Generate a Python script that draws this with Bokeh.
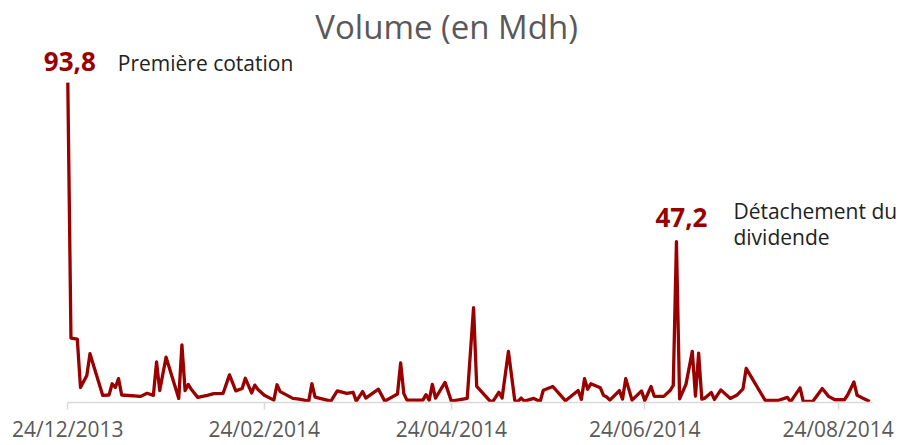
import numpy as np
import pandas as pd
from bokeh.plotting import figure
from bokeh.models import Range1d, Label, FixedTicker, DatetimeTickFormatter, ColumnDataSource
from bokeh.embed import file_html
from bokeh.resources import INLINE

# ---------------- data ----------------
dates = [
    "2013-12-24", "2013-12-25", "2013-12-27", "2013-12-28", "2013-12-30", "2013-12-31",
    "2014-01-02", "2014-01-04", "2014-01-06", "2014-01-07", "2014-01-08", "2014-01-09",
    "2014-01-10", "2014-01-16", "2014-01-18", "2014-01-20", "2014-01-21", "2014-01-22",
    "2014-01-24", "2014-01-28", "2014-01-29", "2014-01-30", "2014-01-31", "2014-02-01",
    "2014-02-03", "2014-02-06", "2014-02-08", "2014-02-11", "2014-02-13", "2014-02-15",
    "2014-02-17", "2014-02-18", "2014-02-20", "2014-02-21", "2014-02-22", "2014-02-24",
    "2014-02-27", "2014-02-28", "2014-03-01", "2014-03-05", "2014-03-07", "2014-03-10",
    "2014-03-11", "2014-03-12", "2014-03-17", "2014-03-19", "2014-03-22", "2014-03-24",
    "2014-03-25", "2014-03-27", "2014-03-28", "2014-04-01", "2014-04-03", "2014-04-07",
    "2014-04-08", "2014-04-09", "2014-04-10", "2014-04-15", "2014-04-16", "2014-04-17",
    "2014-04-18", "2014-04-19", "2014-04-22", "2014-04-24", "2014-04-29", "2014-05-01",
    "2014-05-02", "2014-05-06", "2014-05-07", "2014-05-09", "2014-05-10", "2014-05-12",
    "2014-05-14", "2014-05-15", "2014-05-16", "2014-05-17", "2014-05-20", "2014-05-22",
    "2014-05-23", "2014-05-26", "2014-05-28", "2014-05-30", "2014-06-03", "2014-06-04",
    "2014-06-05", "2014-06-06", "2014-06-07", "2014-06-10", "2014-06-11", "2014-06-12",
    "2014-06-13", "2014-06-16", "2014-06-17", "2014-06-18", "2014-06-20", "2014-06-23",
    "2014-06-24", "2014-06-26", "2014-06-27", "2014-06-30", "2014-07-02", "2014-07-03",
    "2014-07-04", "2014-07-05", "2014-07-07", "2014-07-09", "2014-07-10", "2014-07-11",
    "2014-07-12", "2014-07-13", "2014-07-15", "2014-07-16", "2014-07-18", "2014-07-21",
    "2014-07-23", "2014-07-25", "2014-07-26", "2014-08-01", "2014-08-05", "2014-08-08",
    "2014-08-09", "2014-08-12", "2014-08-13", "2014-08-16", "2014-08-19", "2014-08-21",
    "2014-08-23", "2014-08-26", "2014-08-27", "2014-08-29", "2014-08-30", "2014-09-01",
    "2014-09-03",
]
volumes = [
    93.8, 18.9, 18.6, 4.4, 7.9, 14.3,
    8.2, 2.1, 2.2, 5.5, 4.4, 7.0,
    2.2, 1.8, 2.7, 2.1, 11.9, 3.5,
    13.3, 1.2, 16.9, 3.5, 5.3, 3.8,
    1.5, 2.1, 2.6, 2.7, 8.1, 3.4,
    4.1, 7.1, 2.8, 5.1, 3.8, 2.1,
    0.7, 5.2, 3.2, 1.2, 1.0, 0.4,
    5.5, 1.6, 0.4, 3.4, 2.7, 3.0,
    0.4, 3.2, 1.3, 3.9, 0.4, 2.5,
    11.6, 2.6, 0.7, 0.7, 2.3, 0.7,
    5.3, 1.3, 5.9, 0.4, 1.2, 27.8,
    4.7, 0.6, 0.2, 3.0, 1.3, 15.0,
    0.6, 0.3, 1.3, 0.4, 1.2, 0.3,
    3.6, 4.7, 2.6, 0.5, 3.5, 0.9,
    7.0, 3.9, 5.5, 4.3, 2.1, 1.6,
    0.7, 3.5, 1.0, 7.0, 0.7, 3.4,
    0.6, 4.7, 1.8, 1.8, 3.5, 5.0,
    47.2, 1.1, 5.3, 15.0, 1.9, 14.5,
    1.0, 1.3, 2.9, 0.9, 3.7, 1.2,
    2.1, 4.0, 10.0, 0.6, 0.6, 1.5,
    0.2, 4.3, 0.3, 0.3, 4.1, 1.8,
    0.8, 0.8, 2.2, 6.0, 2.1, 1.2,
    0.3,
]
tick_dates = ["2013-12-24", "2014-02-24", "2014-04-24", "2014-06-24", "2014-08-24"]
title_text = "Volume (en Mdh)"
title_date = "2014-04-22 12:00"
note_first = "Première cotation"
note_dividend = ["Détachement du", "dividende"]

# ---------------- styling / geometry ----------------
RED = "#990000"
GREY = "#595959"
FONT = "Open Sans"
W, H = 900, 445
LEFT, RIGHT, TOP, BOTTOM = 12, 0, 0, 43
DAY_PX = 3.17      # pixels per day
UNIT_PX = 3.41     # pixels per Mdh
FIRST_TICK_PX = 67.3

frame_w = W - LEFT - RIGHT
frame_h = H - TOP - BOTTOM

t0 = pd.Timestamp(tick_dates[0])
x_start = t0 - pd.Timedelta(days=(FIRST_TICK_PX - LEFT) / DAY_PX)
x_end = x_start + pd.Timedelta(days=frame_w / DAY_PX)
y_end = frame_h / UNIT_PX

x = pd.to_datetime(dates)
src = ColumnDataSource(dict(x=x, y=volumes))


def ms(t):
    return pd.Timestamp(t).value / 1e6


p = figure(
    width=W, height=H, output_backend="svg", toolbar_location=None,
    x_axis_type="datetime", y_axis_location=None,
    x_range=Range1d(ms(x_start), ms(x_end)), y_range=Range1d(0, y_end),
    min_border_left=LEFT, min_border_right=RIGHT,
    min_border_top=TOP, min_border_bottom=BOTTOM,
)
p.outline_line_color = None
p.xgrid.visible = False
p.ygrid.visible = False
p.background_fill_color = "white"
p.border_fill_color = "white"

p.line("x", "y", source=src, line_color=RED, line_width=3.3, line_join="round")

ax = p.xaxis[0]
ax.ticker = FixedTicker(ticks=[ms(d) for d in tick_dates])
ax.bounds = (ms(tick_dates[0]), ms(dates[-1]) + 86400000)
fmt = "%d/%m/%Y"
ax.formatter = DatetimeTickFormatter(
    microseconds=fmt, milliseconds=fmt, seconds=fmt, minsec=fmt, minutes=fmt,
    hourmin=fmt, hours=fmt, days=fmt, months=fmt, years=fmt,
)
ax.axis_line_color = "#d9d9d9"
ax.axis_line_width = 1.5
ax.major_tick_line_color = "#d9d9d9"
ax.major_tick_line_width = 1.5
ax.major_tick_out = 7
ax.major_tick_in = 0
ax.minor_tick_out = 0
ax.minor_tick_in = 0
ax.major_label_standoff = 5
ax.major_label_text_font = FONT
ax.major_label_text_font_size = "21px"
ax.major_label_text_color = GREY

# title
p.add_layout(Label(x=ms(title_date), y=y_end, y_offset=-26, text=title_text,
                   text_align="center", text_baseline="alphabetic",
                   text_font=FONT, text_font_size="33px", text_color=GREY))

# annotations
def fmt_val(v):
    return f"{v:.1f}".replace(".", ",")

i1 = 0
i2 = int(np.argmax(volumes[1:])) + 1

p.add_layout(Label(x=ms(x[i1]), y=volumes[i1], x_offset=2, y_offset=21,
                   text=fmt_val(volumes[i1]), text_align="center", text_baseline="alphabetic",
                   text_font=FONT, text_font_style="bold", text_font_size="26px", text_color=RED))
p.add_layout(Label(x=ms(x[i1]), y=volumes[i1], x_offset=50, y_offset=20,
                   text=note_first, text_align="left", text_baseline="alphabetic",
                   text_font=FONT, text_font_size="21px", text_color="#222222"))

p.add_layout(Label(x=ms(x[i2]), y=volumes[i2], x_offset=5, y_offset=24,
                   text=fmt_val(volumes[i2]), text_align="center", text_baseline="alphabetic",
                   text_font=FONT, text_font_style="bold", text_font_size="26px", text_color=RED))
for k, line_txt in enumerate(note_dividend):
    p.add_layout(Label(x=ms(x[i2]), y=volumes[i2], x_offset=57, y_offset=31 - 26 * k,
                       text=line_txt, text_align="left", text_baseline="alphabetic",
                       text_font=FONT, text_font_size="21px", text_color="#222222"))

open("out.html", "w").write(file_html(p, INLINE))
